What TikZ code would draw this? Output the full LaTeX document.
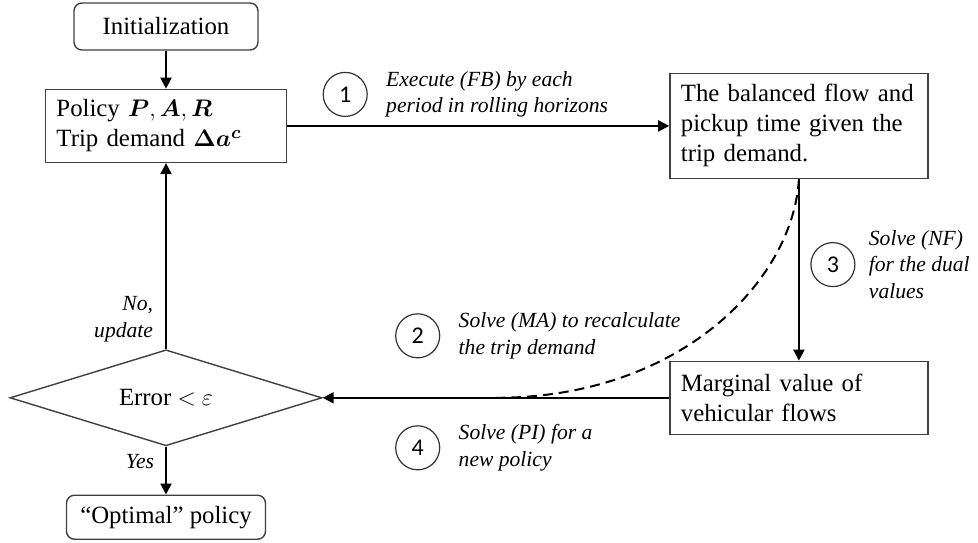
\documentclass[tikz,border=0pt]{standalone}
\usepackage{fontspec}
\setmainfont{Liberation Serif}
\newfontfamily\numfont{Carlito}
\usepackage{bm}
\usepackage{tikz}
\usetikzlibrary{shapes,arrows.meta,positioning,calc}
\tikzstyle{box} = [rectangle, draw=black!75, line width=0.7pt, text=black, font=\fontsize{12.4}{15}\selectfont, inner sep=0pt]
\tikzstyle{tbox} = [box, align=left, inner xsep=5.5pt]
\tikzstyle{rbox} = [box, rounded corners=4pt, align=center]
\tikzstyle{dec} = [diamond, aspect=3.25, draw=black!75, line width=0.7pt, font=\fontsize{12.4}{15}\selectfont, minimum width=156pt, minimum height=48pt, inner sep=0pt]
\tikzstyle{num} = [circle, draw=black!80, line width=0.6pt, minimum size=22pt, inner sep=0pt, font=\numfont\fontsize{12}{12}\selectfont]
\tikzstyle{lbl} = [font=\fontsize{10.8}{13.2}\selectfont\itshape, align=left, inner sep=1pt]
\tikzstyle{tedge} = [draw, line width=1pt, -{Triangle[length=5.5pt,width=5.5pt]}]

\begin{document}
\begin{tikzpicture}[auto]
\useasboundingbox (-83pt,13.25pt) rectangle (406pt,-257.75pt);

% boxes ==================================

% left column
\node[rbox, minimum width=92pt, minimum height=23.5pt] (init) {Initialization};
\node[tbox, text width=109.5pt, minimum height=36.5pt, below=19pt of init] (policy) {Policy $\bm{P}, \bm{A}, \bm{R}$\\Trip demand $\bm{\Delta a^{c}}$};
\node[dec, below=93pt of policy] (err) {Error $<$ $\varepsilon$};
\node[rbox, minimum width=99.5pt, minimum height=22pt, below=24pt of err] (optimal) {“Optimal” policy};

% right column
\node[tbox, text width=118pt, minimum height=52.5pt, right=191pt of policy] (balflow) {The balanced flow and\\pickup time given the\\trip demand.};
\node[tbox, text width=118pt, minimum height=36.5pt] (margval) at (balflow |- err) {Marginal value of\\vehicular flows};

% steps
\node[num] (c1) at ([shift={(29pt,15.75pt)}]policy.east) {1};
\node[num] (c2) at ([shift={(47.5pt,31pt)}]err.east) {2};
\node[num] (c3) at ([shift={(17pt,48pt)}]margval.north) {3};
\node[num] (c4) at ([shift={(47.5pt,-25pt)}]err.east) {4};

\node[lbl, right=8pt of c1] (l1) {Execute (FB) by each\\period in rolling horizons};
\node[lbl, right=8pt of c2] (l2) {Solve (MA) to recalculate\\the trip demand};
\node[lbl, right=5.5pt of c3] (l3) {Solve (NF)\\for the dual\\values};
\node[lbl, right=8pt of c4] (l4) {Solve (PI) for a\\new policy};

\coordinate (dend) at ($(err.east)!0.5!(margval.west)$);

%edges
\path[tedge] (init) -- (policy);
\path[tedge] (policy) -- (balflow);
\path[tedge] (balflow) -- (margval);
\path[tedge] (margval) -- (err);
\path[tedge] (err) -- node[lbl, pos=0.16, left=5pt, align=right] {No,\\update} (policy);
\path[tedge] (err) -- node[lbl, pos=0.31, left=4.5pt] {Yes} (optimal);
\draw[line width=1pt, dash pattern=on 5pt off 3pt] (balflow.south) .. controls +(-3pt,-51pt) and +(92pt,0pt) .. (dend);

\end{tikzpicture}
\end{document}
